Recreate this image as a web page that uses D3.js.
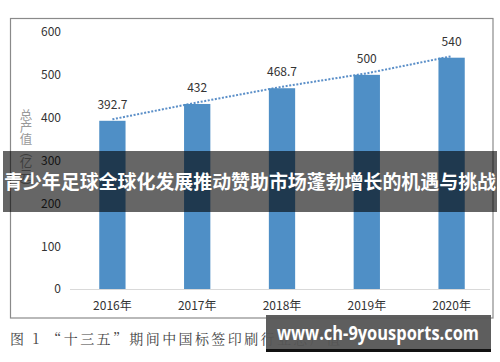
<!DOCTYPE html>
<html><head><meta charset="utf-8">
<script src="https://cdn.jsdelivr.net/npm/d3@7"></script>
<style>html,body{margin:0;padding:0;background:#fff;}svg{display:block;}</style>
</head><body>
<script>
const categories = ["2016年","2017年","2018年","2019年","2020年"];
const values = [392.7, 432, 468.7, 500, 540];
const valueLabels = ["392.7","432","468.7","500","540"];
const yTicks = [0,100,200,300,400,500,600];
const yTitle = "总产值（亿元）";
const caption = "图 1  “十三五”期间中国标签印刷行业总产值";
const banner = "青少年足球全球化发展推动赞助市场蓬勃增长的机遇与挑战";
const watermark = "www.ch-9yousports.com";

const W = 500, H = 362;
const svg = d3.select("body").append("svg").attr("width", W).attr("height", H);
const font = "'Noto Sans CJK SC','Open Sans',sans-serif";

svg.append("rect").attr("x",10.5).attr("y",18.5).attr("width",482.5).attr("height",299.5)
  .attr("fill","#fff").attr("stroke","#8a8a8a").attr("stroke-width",1.2);

const x = d3.scaleBand().domain(categories).range([70,494]).paddingInner(0.69).paddingOuter(0.345);
const y = d3.scaleLinear().domain([0,600]).range([289,32]);

// y tick labels
const yAxis = d3.axisLeft(y).tickValues(yTicks).tickSize(0).tickPadding(0).tickFormat(d3.format("d"));
const ya = svg.append("g").attr("transform","translate(61,0)").call(yAxis);
ya.select(".domain").remove();
ya.selectAll("text").attr("font-family",font).attr("font-size",12).attr("fill","#333");

// baseline
svg.append("line").attr("x1",70).attr("x2",490).attr("y1",y(0)+0.5).attr("y2",y(0)+0.5)
  .attr("stroke","#d9d9d9").attr("stroke-width",1);

// x axis labels
const xAxis = d3.axisBottom(x).tickSize(0).tickPadding(12);
const xa = svg.append("g").attr("transform",`translate(0,${y(0)})`).call(xAxis);
xa.select(".domain").remove();
xa.selectAll("text").attr("font-family",font).attr("font-size",12).attr("fill","#333");

// trend dotted line
const line = d3.line().x((d,i)=>x(categories[i])+x.bandwidth()/2).y(d=>y(d)-1.5);
svg.append("path").datum(values).attr("d",line).attr("fill","none")
  .attr("stroke","#5b8fc8").attr("stroke-width",2).attr("stroke-dasharray","2,1.6");

// bars
svg.selectAll("rect.bar").data(values).join("rect").attr("class","bar")
  .attr("x",(d,i)=>x(categories[i])).attr("width",x.bandwidth())
  .attr("y",d=>y(d)).attr("height",d=>y(0)-y(d)).attr("fill","#4f8fc6");

// value labels
svg.selectAll("text.val").data(values).join("text").attr("class","val")
  .attr("x",(d,i)=>x(categories[i])+x.bandwidth()/2).attr("y",d=>y(d)-12)
  .attr("text-anchor","middle").attr("font-family",font).attr("font-size",12).attr("fill","#333")
  .text((d,i)=>valueLabels[i]);

// y title vertical
svg.append("text").attr("x",26).attr("y",109)
  .style("writing-mode","vertical-rl").attr("letter-spacing",-0.5)
  .attr("font-family",font).attr("font-size",12.5).attr("fill","#999").text(yTitle);

// caption
svg.append("text").attr("x",10).attr("y",344).attr("font-family","'Noto Serif CJK SC','Noto Sans CJK SC',serif")
  .attr("font-size",14).attr("letter-spacing",2.4).attr("fill","#444").text(caption);

// banner overlay
svg.append("rect").attr("x",3).attr("y",151).attr("width",494).attr("height",61).attr("fill","rgba(0,0,0,0.6)");
svg.append("text").attr("x",4).attr("y",189).attr("font-family",font).attr("font-weight","bold")
  .attr("font-size",19).attr("fill","#fff").attr("textLength",492).attr("lengthAdjust","spacingAndGlyphs").text(banner);

// watermark
svg.append("rect").attr("x",266).attr("y",315).attr("width",225).attr("height",34).attr("fill","#555").attr("opacity",0.95);
svg.append("rect").attr("x",266).attr("y",349).attr("width",225).attr("height",3).attr("fill","#111");
svg.append("text").attr("x",277).attr("y",340).attr("font-family","'Open Sans',sans-serif").attr("font-weight","bold")
  .attr("font-size",20).attr("fill","#fff").attr("textLength",202).attr("lengthAdjust","spacingAndGlyphs").text(watermark);
</script>
</body></html>
